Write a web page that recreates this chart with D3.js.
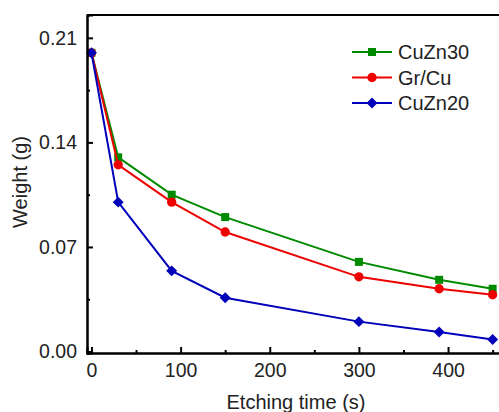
<!DOCTYPE html>
<html>
<head>
<meta charset="utf-8">
<script src="https://cdn.jsdelivr.net/npm/d3@7"></script>
<style>
  html, body { margin: 0; padding: 0; background: #fff; overflow: hidden; }
  svg { display: block; font-family: "Liberation Sans", Arial, sans-serif; }
</style>
</head>
<body>
<div id="chart"></div>
<script>
// Etching time vs weight — three alloys
const times = [0, 30, 90, 150, 300, 390, 450];
const cuzn30 = [0.200, 0.130, 0.105, 0.090, 0.060, 0.048, 0.042];
const grcu   = [0.200, 0.125, 0.100, 0.080, 0.050, 0.042, 0.038];
const cuzn20 = [0.200, 0.100, 0.054, 0.036, 0.020, 0.013, 0.008];
const seriesNames = ["CuZn30", "Gr/Cu", "CuZn20"];
const xTicks = [0, 100, 200, 300, 400];
const yTicks = [0.00, 0.07, 0.14, 0.21];

(function () {
  const W = 499, H = 412;
  const svg = d3.select("#chart").append("svg")
    .attr("width", W).attr("height", H);

  const x = d3.scaleLinear().domain([-5, 465]).range([87, 506]);
  const y = d3.scaleLinear().domain([-0.001, 0.2253]).range([353, 15]);

  // square diamond (rotated square), like Origin's marker
  const diamond = {
    draw(ctx, size) {
      const r = Math.sqrt(size / 2);
      ctx.moveTo(0, -r); ctx.lineTo(r, 0); ctx.lineTo(0, r); ctx.lineTo(-r, 0); ctx.closePath();
    }
  };

  const series = [
    { name: seriesNames[0], vals: cuzn30, color: "#008a00", shape: d3.symbolSquare, size: 64 },
    { name: seriesNames[1], vals: grcu, color: "#ee0000", shape: d3.symbolCircle, size: 68 },
    { name: seriesNames[2], vals: cuzn20, color: "#0000bb", shape: diamond, size: 60 }
  ];

  const line = d3.line().x(d => x(d[0])).y(d => y(d[1]));

  // Lines + markers
  series.forEach(s => {
    const pts = times.map((t, i) => [t, s.vals[i]]);
    svg.append("path")
      .datum(pts)
      .attr("d", line)
      .attr("fill", "none")
      .attr("stroke", s.color)
      .attr("stroke-width", 2);
    svg.selectAll(null)
      .data(pts)
      .join("path")
      .attr("transform", d => `translate(${x(d[0])},${y(d[1])})`)
      .attr("d", d3.symbol().type(s.shape).size(s.size))
      .attr("fill", s.color);
  });

  // Axes (ticks inward)
  const xAxis = svg.append("g")
    .attr("transform", `translate(0,${y.range()[0]})`)
    .call(d3.axisBottom(x).tickValues(xTicks).tickSize(-6).tickPadding(10).tickFormat(d3.format("d")));
  const xMinor = svg.append("g")
    .attr("transform", `translate(0,${y.range()[0]})`)
    .call(d3.axisBottom(x).tickValues([50, 150, 250, 350, 450]).tickSize(-3).tickFormat(""));

  const yAxis = svg.append("g")
    .attr("transform", `translate(${x.range()[0]},0)`)
    .call(d3.axisLeft(y).tickValues(yTicks).tickSize(-6).tickPadding(10).tickFormat(d3.format(".2f")));
  const yMinor = svg.append("g")
    .attr("transform", `translate(${x.range()[0]},0)`)
    .call(d3.axisLeft(y).tickValues([0.035, 0.105, 0.175]).tickSize(-3).tickFormat(""));

  [xAxis, xMinor, yAxis, yMinor].forEach(g => {
    g.select(".domain").attr("stroke", "#000").attr("stroke-width", 2);
    g.selectAll(".tick line").attr("stroke", "#000").attr("stroke-width", 2);
    g.selectAll(".tick text").attr("font-size", "19.5px").attr("fill", "#222")
      .attr("font-family", "Liberation Sans, Arial, sans-serif");
  });

  // Top frame line
  svg.append("line")
    .attr("x1", x.range()[0]).attr("x2", W + 10)
    .attr("y1", y.range()[1]).attr("y2", y.range()[1])
    .attr("stroke", "#000").attr("stroke-width", 2);

  // Axis titles
  svg.append("text")
    .attr("x", 296).attr("y", 409)
    .attr("text-anchor", "middle")
    .attr("font-size", "20px").attr("fill", "#222")
    .text("Etching time (s)");
  svg.append("text")
    .attr("transform", "translate(27,182) rotate(-90)")
    .attr("text-anchor", "middle")
    .attr("font-size", "20px").attr("fill", "#222")
    .text("Weight (g)");

  // Legend
  const leg = svg.append("g").attr("transform", "translate(352,52)");
  series.forEach((s, i) => {
    const g = leg.append("g").attr("transform", `translate(0,${i * 25.5})`);
    g.append("line").attr("x1", 0).attr("x2", 40).attr("stroke", s.color).attr("stroke-width", 2);
    g.append("path").attr("transform", "translate(20,0)")
      .attr("d", d3.symbol().type(s.shape).size(s.size)).attr("fill", s.color);
    g.append("text").attr("x", 46).attr("dy", "0.35em")
      .attr("font-size", "20px").attr("fill", "#222").text(s.name);
  });
})();
</script>
</body>
</html>
